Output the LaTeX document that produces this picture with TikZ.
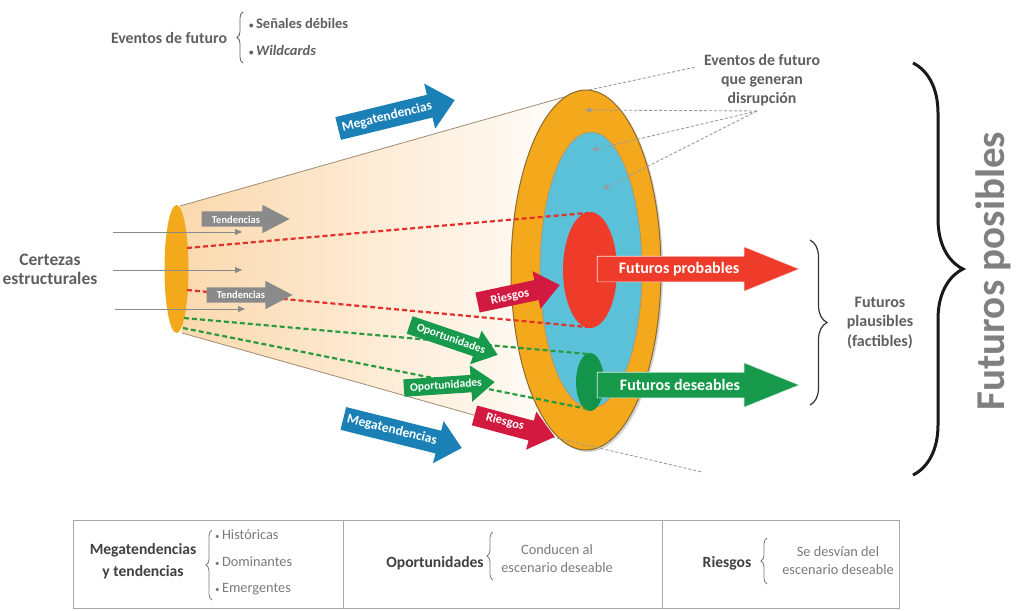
\documentclass[tikz,border=0pt]{standalone}
\usepackage{fontspec}
\setmainfont{Carlito}
\usetikzlibrary{shapes.arrows,decorations.pathreplacing,shadows,arrows.meta,calc}
\definecolor{txtgray}{HTML}{5F5F5F}
\definecolor{tbltxt}{HTML}{404040}
\definecolor{itemgray}{HTML}{7A7A7A}
\definecolor{posgray}{HTML}{808080}
\definecolor{orangeF}{HTML}{F4A91D}
\definecolor{ringEdge}{HTML}{8C6A2E}
\definecolor{cyanF}{HTML}{5BC1D9}
\definecolor{redF}{HTML}{EE3B2A}
\definecolor{greenF}{HTML}{12944A}
\definecolor{megaBlue}{HTML}{1B80B6}
\definecolor{riskRed}{HTML}{D2193F}
\definecolor{oppGreen}{HTML}{179A4B}
\definecolor{tendGray}{HTML}{8A8A8A}
\definecolor{peach}{HTML}{FBD9AE}
\definecolor{dashRed}{HTML}{E2312B}
\definecolor{dashGreen}{HTML}{2A9A3E}
\definecolor{lineGray}{HTML}{9A9A9A}
\definecolor{tblGray}{HTML}{A8A8A8}
\definecolor{coneEdge}{HTML}{9E8B74}
\newcommand{\smbul}{{\fontsize{9}{9}\selectfont•}\,}
\begin{document}
\begin{tikzpicture}[x=1pt,y=-1pt,
  lbl/.style={text=txtgray,font=\bfseries\fontsize{15.8}{19}\selectfont,align=center,inner sep=0pt},
  tlbl/.style={text=tbltxt,font=\bfseries\fontsize{15.6}{22}\selectfont,align=center,inner sep=0pt},
  titem/.style={text=itemgray,font=\fontsize{14.3}{18}\selectfont,align=center,inner sep=0pt},
  arr/.style n args={5}{single arrow, fill=#1, draw=none, text height=0pt, text depth=0pt,
     inner xsep=0pt, inner ysep=#3, minimum height=#2, single arrow head extend=#4,
     single arrow tip angle=#5, anchor=tip},
  awtxt/.style={text=white, font=\bfseries\fontsize{#1}{#1}\selectfont, inner sep=0pt},
  gdash/.style={draw=lineGray, line width=0.9pt, dash pattern=on 3pt off 2pt},
  gtip/.style={-{Triangle[length=6pt,width=5pt]}},
  rdash/.style={draw=dashRed, line width=2.2pt, dash pattern=on 5pt off 3pt},
  gndash/.style={draw=dashGreen, line width=2.2pt, dash pattern=on 5pt off 3pt},
  thinarr/.style={draw=tendGray, line width=0.8pt, -{Triangle[length=7pt,width=6pt]}},
  smallbrace/.style={decorate, decoration={brace, amplitude=#1}, draw=itemgray, line width=0.8pt},
]
\useasboundingbox (0,0) rectangle (1016,610);
\fill[white] (0,0) rectangle (1016,610);

% cone
\coordinate (cTL) at (180,206);
\coordinate (cTR) at (589,90);
\coordinate (cBL) at (182,333);
\coordinate (cBR) at (552,437);
\shade[left color=peach, right color=white] (cTL) -- (cTR) -- (589,450) -- (cBR) -- (cBL) -- cycle;
\draw[coneEdge, line width=0.8pt] (cTL) -- (cTR);
\draw[coneEdge, line width=0.8pt] (cBL) -- (cBR);

% small ellipse
\fill[orangeF] (176.5,269) ellipse [x radius=12, y radius=64];

% certezas arrows
\coordinate (k1a) at (113,232); \coordinate (k1b) at (242,232);
\coordinate (k2a) at (113,270); \coordinate (k2b) at (242,270);
\coordinate (k3a) at (115,309); \coordinate (k3b) at (245,309);
\draw[thinarr] (k1a) -- (k1b);
\draw[thinarr] (k2a) -- (k2b);
\draw[thinarr] (k3a) -- (k3b);

% big ellipses
\path[fill=orangeF, draw=ringEdge, line width=1pt, drop shadow={shadow xshift=2pt, shadow yshift=-2pt, opacity=0.35}] (586,270) ellipse [x radius=75, y radius=180];
\path[fill=cyanF, draw=ringEdge!70, line width=0.8pt] (591,270) ellipse [x radius=51, y radius=138];
\fill[redF] (590,270) ellipse [x radius=27, y radius=58];
\fill[greenF] (590,382) ellipse [x radius=14, y radius=29];

% dashed projection lines
\coordinate (r1a) at (187,248); \coordinate (r1b) at (587,213);
\coordinate (r2a) at (187,290); \coordinate (r2b) at (587,327);
\coordinate (g1a) at (184,318); \coordinate (g1b) at (588,354);
\coordinate (g2a) at (183,328); \coordinate (g2b) at (588,409);
\draw[rdash] (r1a) -- (r1b);
\draw[rdash] (r2a) -- (r2b);
\draw[gndash] (g1a) -- (g1b);
\draw[gndash] (g2a) -- (g2b);

% grey dashed lines to disruption events
\coordinate (dsrc) at (757,111);
\coordinate (dA) at (585,110);
\coordinate (dB) at (592,150);
\coordinate (dC) at (603,189);
\coordinate (evEnd) at (696,67);
\coordinate (botEnd) at (702,472);
\draw[gdash, gtip] (dsrc) -- (dA);
\draw[gdash, gtip] (dsrc) -- (dB);
\draw[gdash, gtip] (dsrc) -- (dC);
\draw[gdash] (cTR) -- (evEnd);
\draw[gdash] (cBR) -- (botEnd);

% arrows (placed by their tips)
\node[arr={megaBlue}{120}{11.5}{11.5}{84}, rotate=13.7] (megaA) at (455,100) {};
\node[awtxt=13.5, rotate=13.7] (megaAt) at (387,117) {Megatendencias};
\node[arr={megaBlue}{122}{11.5}{10}{84}, rotate=-14] (megaB) at (462,448) {};
\node[awtxt=13.5, rotate=-14] (megaBt) at (392,430) {Megatendencias};

\node[arr={tendGray}{88}{7.5}{6.5}{55}] (tendA) at (290,219) {};
\node[awtxt=10.5] (tendAt) at (236,219.5) {Tendencias};
\node[arr={tendGray}{86}{7.5}{6.5}{55}] (tendB) at (293,295) {};
\node[awtxt=10.5] (tendBt) at (241,295) {Tendencias};

\node[arr={riskRed}{84}{10}{9}{78}, rotate=12] (riskA) at (560,285) {};
\node[awtxt=12.5, rotate=12] (riskAt) at (510,297) {Riesgos};
\node[arr={riskRed}{83}{10}{9.5}{78}, rotate=-15] (riskB) at (555,437) {};
\node[awtxt=12.5, rotate=-15] (riskBt) at (505,422) {Riesgos};

\node[arr={oppGreen}{93}{9}{8.5}{75}, rotate=-18.8] (oppA) at (498,355) {};
\node[awtxt=11.5, rotate=-18.8] (oppAt) at (451,339) {Oportunidades};
\node[arr={oppGreen}{91}{8.5}{9.5}{75}, rotate=3.8] (oppB) at (495,382) {};
\node[awtxt=11.5, rotate=3.8] (oppBt) at (446,385.5) {Oportunidades};

\node[arr={redF}{202}{12.5}{9.5}{44}, draw=white!85!redF, line width=0.6pt] (prob) at (800,269) {};
\node[awtxt=16] (probt) at (679,269) {Futuros probables};
\node[arr={oppGreen}{202}{12.5}{9.5}{44}, draw=white!85!oppGreen, line width=0.6pt] (des) at (800,385) {};
\node[awtxt=16] (dest) at (680,385) {Futuros deseables};

% labels
\node[lbl] (evt) at (169,38) {Eventos de futuro};
\node[lbl, anchor=west, font=\bfseries\fontsize{14.5}{17}\selectfont] (sen) at (249,23) {\smbul Señales débiles};
\node[lbl, anchor=west, font=\bfseries\fontsize{14.5}{17}\selectfont] (wild) at (249,50) {\smbul\textit{Wildcards}};
\draw[smallbrace=6pt, draw=txtgray] (243,63) -- (243,12);

\node[lbl] (dis) at (762,80) {Eventos de futuro\\que generan\\disrupción};
\node[lbl, font=\bfseries\fontsize{17.5}{19}\selectfont] (cert) at (50,269) {Certezas\\estructurales};
\node[lbl, font=\bfseries\fontsize{16}{19.5}\selectfont] (plaus) at (880,323) {Futuros\\plausibles\\(factibles)};
\draw[decorate, decoration={brace, amplitude=17pt}, draw=black!80, line width=1.2pt] (810,240) -- (810,405);

\draw[decorate, decoration={brace, amplitude=50pt}, draw=black!90, line width=3pt] (913,63) -- (913,475);
\node[rotate=90, text=posgray, font=\bfseries\fontsize{41}{41}\selectfont, inner sep=0pt] (posib) at (993,271) {Futuros posibles};

% table
\draw[tblGray, line width=1pt] (73,520) rectangle (899,608);
\draw[tblGray, line width=1pt] (343,520) -- (343,608);
\draw[tblGray, line width=1pt] (662,520) -- (662,608);

\node[tlbl] (megaT) at (143,561) {Megatendencias\\y tendencias};
\draw[smallbrace=6pt] (212,600) -- (212,530);
\node[titem, anchor=west] (hist) at (215,535) {\smbul Históricas};
\node[titem, anchor=west] (dom) at (215,562) {\smbul Dominantes};
\node[titem, anchor=west] (emer) at (215,589) {\smbul Emergentes};

\node[tlbl] (oppT) at (435,563) {Oportunidades};
\draw[smallbrace=6pt] (493,580) -- (493,532);
\node[titem] (oppD) at (557,559) {Conducen al\\escenario deseable};

\node[tlbl] (riskT) at (727,563) {Riesgos};
\draw[smallbrace=6pt] (767,584) -- (767,538);
\node[titem] (riskD) at (838,561) {Se desvían del\\escenario deseable};
\end{tikzpicture}
\end{document}
